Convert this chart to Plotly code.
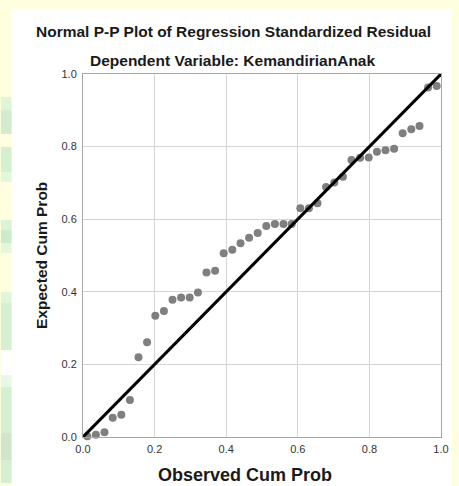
import plotly.graph_objects as go

# Data
observed_cum_prob = [0.012, 0.036, 0.060, 0.083, 0.107, 0.131, 0.155, 0.179, 0.202, 0.226,
                     0.250, 0.274, 0.298, 0.321, 0.345, 0.369, 0.393, 0.417, 0.440, 0.464,
                     0.488, 0.512, 0.536, 0.560, 0.583, 0.607, 0.631, 0.655, 0.679, 0.702,
                     0.726, 0.750, 0.774, 0.798, 0.821, 0.845, 0.869, 0.893, 0.917, 0.940,
                     0.964, 0.988]
expected_cum_prob = [0.002, 0.006, 0.013, 0.053, 0.061, 0.102, 0.220, 0.261, 0.334, 0.347,
                     0.378, 0.384, 0.384, 0.398, 0.453, 0.458, 0.506, 0.516, 0.534, 0.549,
                     0.562, 0.581, 0.587, 0.587, 0.587, 0.630, 0.630, 0.644, 0.689, 0.701,
                     0.717, 0.763, 0.769, 0.770, 0.786, 0.790, 0.794, 0.837, 0.848, 0.857,
                     0.963, 0.967]
ref_line = [0.0, 1.0]
tick_vals = [0.0, 0.2, 0.4, 0.6, 0.8, 1.0]
tick_text = ["0.0", "0.2", "0.4", "0.6", "0.8", "1.0"]

W, H = 459, 486
L, R, T, B = 83, 449, 74, 437  # plot area in pixels


def px(x):
    return (x - L) / (R - L)


def py(y):
    return (B - y) / (B - T)


fig = go.Figure()
fig.add_trace(go.Scatter(x=observed_cum_prob, y=expected_cum_prob, mode="markers",
                         marker=dict(size=8, color="#7f7f7f"), showlegend=False,
                         cliponaxis=False))
fig.add_trace(go.Scatter(x=ref_line, y=ref_line, mode="lines",
                         line=dict(color="black", width=3), showlegend=False,
                         cliponaxis=False))

shapes = [
    dict(type="rect", xref="paper", yref="paper", x0=px(10), x1=px(460), y0=py(487), y1=py(9),
         fillcolor="white", line=dict(width=0), layer="below"),
]
bands = [(97, 110, "#dff5da"), (110, 134, "#d2ecd0"), (147, 172, "#d4f0d0"), (172, 182, "#e2f7dc"),
         (220, 230, "#dcf3d6"), (230, 243, "#cfe9cd"), (243, 253, "#e2f7dc"), (292, 303, "#e0f6da"),
         (303, 350, "#d4f0d0"), (350, 375, "#ffffff"), (375, 387, "#e8f8e6"), (387, 433, "#d4f0d0"),
         (433, 460, "#cfe6cc"), (460, 483, "#d4f0d0")]
for y0, y1, c in bands:
    shapes.append(dict(type="rect", xref="paper", yref="paper", x0=px(-1), x1=px(10),
                       y0=py(y1), y1=py(y0), fillcolor=c, line=dict(width=0), layer="below"))

font = "Liberation Sans, Arial, sans-serif"
annotations = [
    dict(text="<b>Normal P-P Plot of Regression Standardized Residual</b>", x=px(237), y=py(32),
         xref="paper", yref="paper", showarrow=False, xanchor="center", yanchor="middle",
         font=dict(size=15.5, color="#1a1a1a", family=font)),
    dict(text="<b>Dependent Variable: KemandirianAnak</b>", x=px(236), y=py(61),
         xref="paper", yref="paper", showarrow=False, xanchor="center", yanchor="middle",
         font=dict(size=15.5, color="#1a1a1a", family=font)),
    dict(text="<b>Observed Cum Prob</b>", x=px(249), y=py(475),
         xref="paper", yref="paper", showarrow=False, xanchor="center", yanchor="middle",
         font=dict(size=18, color="#1a1a1a", family=font)),
    dict(text="<b>Expected Cum Prob</b>", x=px(40), y=py(255), textangle=-90,
         xref="paper", yref="paper", showarrow=False, xanchor="center", yanchor="middle",
         font=dict(size=15.5, color="#1a1a1a", family=font)),
]

axis_common = dict(range=[0, 1], tickvals=tick_vals, ticktext=tick_text, showgrid=True,
                   gridcolor="#d6d6d6", gridwidth=1, showline=True, linecolor="#a6a6a6",
                   linewidth=1, mirror=True, zeroline=False, ticks="",
                   tickfont=dict(size=11, color="#333333", family=font), fixedrange=True)

fig.update_layout(
    width=W, height=H,
    margin=dict(l=L, r=W - R, t=T, b=H - B, pad=0),
    paper_bgcolor="#ffffe0", plot_bgcolor="white",
    xaxis=dict(**axis_common, ticklabelstandoff=2),
    yaxis=dict(**axis_common, ticklabelstandoff=3),
    shapes=shapes, annotations=annotations,
    font=dict(family=font),
)

fig.write_html("out.html", config={"displayModeBar": False},
               post_script="document.body.style.margin='0';document.body.style.overflow='hidden';")
